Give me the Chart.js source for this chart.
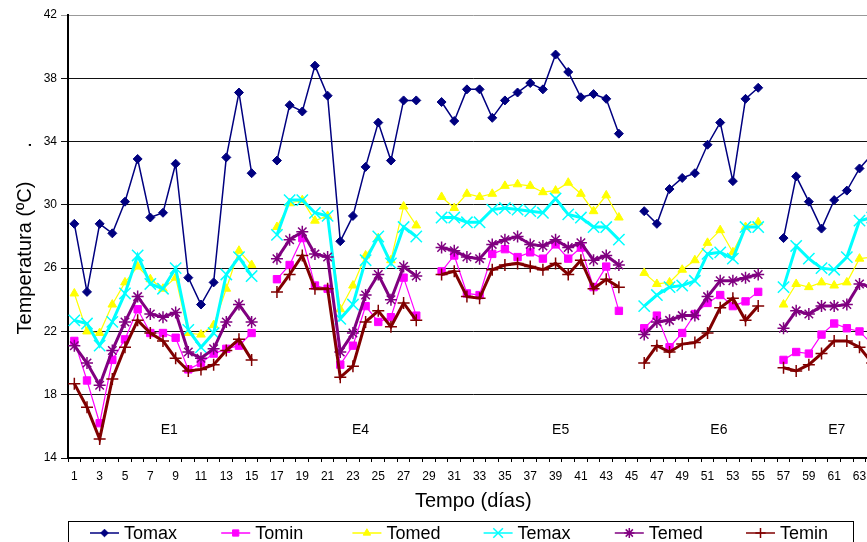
<!DOCTYPE html>
<html>
<head>
<meta charset="utf-8">
<script src="https://cdn.jsdelivr.net/npm/chart.js@4/dist/chart.umd.min.js"></script>
<style>
html, body { margin: 0; padding: 0; background: #fff; overflow: hidden; }
#wrap { width: 867px; height: 542px; overflow: hidden; }
canvas { display: block; }
</style>
</head>
<body>
<div id="wrap"><canvas id="chart" width="888" height="560"></canvas></div>
<script>
// days 1..64, gaps between stages are nulls
const days = Array.from({length: 64}, (_, i) => String(i + 1));

const tomax = [28.8, 24.5, 28.8, 28.2, 30.2, 32.9, 29.2, 29.5, 32.6, 25.4, 23.7, 25.1, 33.0, 37.1, 32.0, null,
  32.8, 36.3, 35.9, 38.8, 36.9, 27.7, 29.3, 32.4, 35.2, 32.8, 36.6, 36.6, null,
  36.5, 35.3, 37.3, 37.3, 35.5, 36.6, 37.1, 37.7, 37.3, 39.5, 38.4, 36.8, 37.0, 36.7, 34.5, null,
  29.6, 28.8, 31.0, 31.7, 32.0, 33.8, 35.2, 31.5, 36.7, 37.4, null,
  27.9, 31.8, 30.2, 28.5, 30.3, 30.9, 32.3, 33.2];
const tomin = [21.4, 18.9, 16.2, 20.2, 21.5, 23.4, 21.9, 21.9, 21.6, 19.6, 20.0, 20.6, 20.9, 21.1, 21.9, null,
  25.3, 26.2, 27.9, 24.9, 24.7, 19.9, 21.1, 23.6, 22.6, 22.9, 25.4, 23.0, null,
  25.8, 26.8, 24.4, 24.3, 26.9, 27.2, 26.7, 27.0, 26.6, 27.5, 26.6, 27.3, 24.8, 26.1, 23.3, null,
  22.2, 23.0, 21.0, 21.9, 23.1, 23.8, 24.3, 23.6, 23.9, 24.5, null,
  20.2, 20.7, 20.6, 21.8, 22.5, 22.2, 22.0, 21.2];
const tomed = [24.4, 22.0, 21.9, 23.7, 25.1, 26.1, 25.3, 24.7, 25.4, 21.9, 21.8, 22.4, 24.7, 27.1, 26.2, null,
  28.6, 30.1, 30.3, 29.0, 29.3, 23.4, 24.9, 26.8, 27.9, 26.5, 29.9, 28.7, null,
  30.5, 29.8, 30.7, 30.5, 30.7, 31.2, 31.3, 31.2, 30.8, 30.9, 31.4, 30.7, 29.6, 30.6, 29.2, null,
  25.7, 25.0, 25.1, 25.9, 26.5, 27.6, 28.4, 27.0, 28.6, 28.9, null,
  23.7, 25.0, 24.8, 25.1, 24.9, 25.1, 26.6, 26.7];
const temax = [22.7, 22.5, 21.1, 22.6, 24.4, 26.8, 25.0, 24.7, 26.0, 22.1, 21.0, 21.9, 25.6, 26.7, 25.5, null,
  28.1, 30.3, 30.3, 29.5, 29.3, 22.8, 23.7, 26.5, 28.0, 26.3, 28.6, 28.0, null,
  29.2, 29.2, 28.9, 28.9, 29.7, 29.8, 29.7, 29.6, 29.5, 30.4, 29.4, 29.2, 28.6, 28.6, 27.8, null,
  23.6, 24.3, 24.8, 24.9, 25.2, 26.9, 27.0, 26.6, 28.6, 28.6, null,
  24.8, 27.4, 26.6, 26.0, 25.9, 26.7, 29.0, 29.2];
const temed = [21.1, 20.0, 18.6, 20.8, 22.6, 24.2, 23.1, 22.9, 23.2, 20.7, 20.3, 20.9, 22.6, 23.7, 22.6, null,
  26.6, 27.8, 28.3, 26.9, 26.7, 20.7, 21.9, 24.3, 25.6, 24.0, 26.1, 25.5, null,
  27.3, 27.1, 26.7, 26.6, 27.5, 27.8, 28.0, 27.5, 27.4, 27.8, 27.3, 27.6, 26.5, 26.8, 26.2, null,
  21.8, 22.6, 22.7, 23.0, 23.0, 24.2, 25.2, 25.2, 25.4, 25.6, null,
  22.2, 23.3, 23.1, 23.6, 23.6, 23.7, 25.0, 24.8];
const temin = [18.7, 17.2, 15.2, 19.0, 21.0, 22.7, 21.9, 21.4, 20.3, 19.5, 19.6, 19.9, 20.8, 21.5, 20.2, null,
  24.5, 25.6, 26.8, 24.7, 24.7, 19.1, 19.8, 22.6, 23.3, 22.3, 23.8, 22.7, null,
  25.6, 25.8, 24.2, 24.1, 25.9, 26.2, 26.3, 26.1, 25.9, 26.3, 25.6, 26.5, 24.7, 25.3, 24.8, null,
  20.0, 21.1, 20.7, 21.2, 21.3, 21.9, 23.5, 24.1, 22.7, 23.6, null,
  19.7, 19.5, 19.9, 20.6, 21.4, 21.4, 21.0, 20.0];

const seriesNames = ['Tomax', 'Tomin', 'Tomed', 'Temax', 'Temed', 'Temin'];
const yTicks = [14, 18, 22, 26, 30, 34, 38, 42];

// stage labels and the day they sit over
const stageNames = ['E1', 'E4', 'E5', 'E6', 'E7'];
const stageDay = [8.5, 23.6, 39.4, 51.9, 61.2];

const FONT = '"Liberation Sans", Arial, sans-serif';

const styles = [
  { color: '#000080', width: 1.5, point: 'rectRot', r: 4.5, bw: 1 },
  { color: '#FF00FF', width: 1.2, point: 'rect', r: 5.2, bw: 1 },
  { color: '#FFFF00', width: 1.2, point: 'triangle', r: 5, bw: 1 },
  { color: '#00FFFF', width: 3, point: 'crossRot', r: 8, bw: 1.5 },
  { color: '#800080', width: 3, point: 'star', r: 6, bw: 1.5 },
  { color: '#800000', width: 3, point: 'cross', r: 6, bw: 1.5 }
];

const values = [tomax, tomin, tomed, temax, temed, temin];
const datasets = values.map((v, i) => ({
  label: seriesNames[i],
  data: v,
  borderColor: styles[i].color,
  backgroundColor: styles[i].color,
  borderWidth: styles[i].width,
  pointStyle: styles[i].point,
  pointRadius: styles[i].r,
  pointBorderWidth: styles[i].bw,
  pointBackgroundColor: styles[i].color,
  pointBorderColor: styles[i].color,
  tension: 0,
  spanGaps: false,
  order: 5 - i
}));

const extras = {
  id: 'extras',
  afterDraw(chart) {
    const ctx = chart.ctx, xs = chart.scales.x, ys = chart.scales.y;
    ctx.save();
    ctx.fillStyle = '#000';

    ctx.font = '14px ' + FONT;
    ctx.textAlign = 'center';
    ctx.textBaseline = 'middle';
    stageNames.forEach((s, i) => {
      ctx.fillText(s, xs.getPixelForValue(stageDay[i] - 1), ys.getPixelForValue(15.77));
    });

    // y title
    ctx.save();
    ctx.translate(25, 258);
    ctx.rotate(-Math.PI / 2);
    ctx.font = '20px ' + FONT;
    ctx.fillText('Temperatura (ºC)', 0, 0);
    ctx.fillText('.', 113, 0);
    ctx.restore();

    // legend
    ctx.font = '18px ' + FONT;
    ctx.textAlign = 'left';
    chart.data.datasets.forEach((ds, i) => {
      const lx = 90 + i * 131.2, ly = 533;
      ctx.strokeStyle = ds.borderColor;
      ctx.lineWidth = 1.5;
      ctx.beginPath();
      ctx.moveTo(lx, ly);
      ctx.lineTo(lx + 29, ly);
      ctx.stroke();
      ctx.fillStyle = ds.pointBackgroundColor;
      ctx.strokeStyle = ds.pointBorderColor;
      ctx.lineWidth = ds.pointBorderWidth;
      Chart.helpers.drawPoint(ctx, {
        pointStyle: ds.pointStyle, radius: ds.pointRadius * 0.85,
        borderWidth: ds.pointBorderWidth, rotation: 0
      }, lx + 14.5, ly);
      ctx.fillStyle = '#000';
      ctx.fillText(ds.label, lx + 34, ly + 1);
    });
    ctx.strokeStyle = '#000';
    ctx.lineWidth = 1;
    ctx.strokeRect(68.5, 521.5, 785, 40);
    ctx.restore();
  }
};

new Chart(document.getElementById('chart'), {
  type: 'line',
  data: { labels: days, datasets: datasets },
  options: {
    responsive: false,
    animation: false,
    layout: { padding: { top: 15, left: 0, right: 0, bottom: 42 } },
    plugins: { legend: { display: false }, tooltip: { enabled: false } },
    scales: {
      x: {
        type: 'category',
        offset: true,
        afterFit: s => { s.height = 60; },
        grid: { offset: true, drawOnChartArea: false, drawTicks: true, tickLength: 4, color: '#000' },
        border: { display: true, color: '#000', width: 2 },
        ticks: {
          autoSkip: false, maxRotation: 0, padding: 7, color: '#000',
          font: { family: FONT, size: 12 },
          callback: (v, i) => (i % 2 === 0 ? days[i] : '')
        },
        title: { display: true, text: 'Tempo (días)', color: '#000', font: { family: FONT, size: 20 }, padding: { top: 0, bottom: 5 } }
      },
      y: {
        min: yTicks[0], max: yTicks[yTicks.length - 1],
        afterFit: s => { s.width = 68; },
        afterBuildTicks: s => { s.ticks = yTicks.map(v => ({ value: v })); },
        grid: { color: c => (c.tick && c.tick.value === 42 ? '#999' : '#111'), lineWidth: 1, tickLength: 7 },
        border: { display: true, color: '#000', width: 2 },
        ticks: { padding: 4, color: '#000', font: { family: FONT, size: 12 } }
      }
    }
  },
  plugins: [extras]
});
</script>
</body>
</html>
